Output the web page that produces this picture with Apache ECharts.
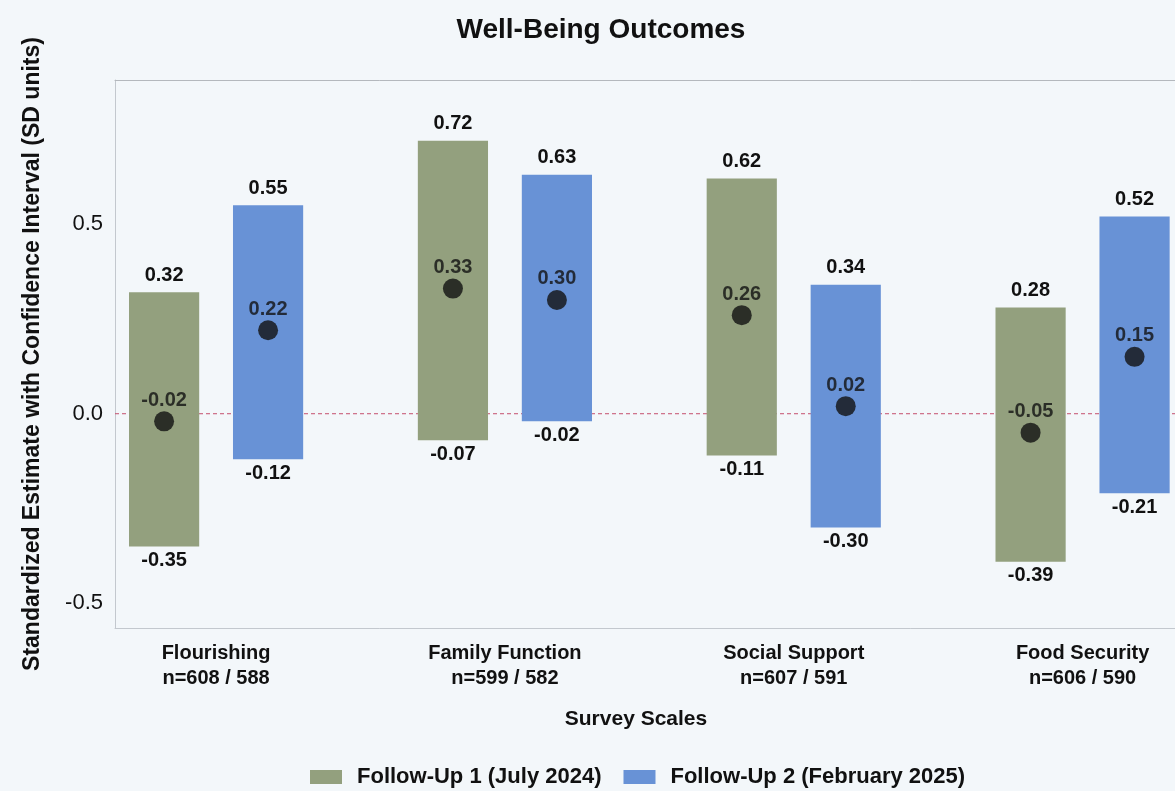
<!DOCTYPE html>
<html>
<head>
<meta charset="utf-8">
<script src="https://cdn.jsdelivr.net/npm/echarts@6/dist/echarts.min.js"></script>
<style>
  html, body { margin: 0; padding: 0; background: #f3f7fa; }
  #chart { width: 1175px; height: 791px; }
</style>
</head>
<body>
<div id="chart"></div>
<script>
  // survey scales and sample sizes
  let scaleNames = ['Flourishing', 'Family Function', 'Social Support', 'Food Security']
  let sampleSizes = ['n=608 / 588', 'n=599 / 582', 'n=607 / 591', 'n=606 / 590']
  // follow-up 1 (July 2024)
  let fu1Est = [-0.02, 0.33, 0.26, -0.05]
  let fu1Low = [-0.35, -0.07, -0.11, -0.39]
  let fu1High = [0.32, 0.72, 0.62, 0.28]
  // follow-up 2 (February 2025)
  let fu2Est = [0.22, 0.30, 0.02, 0.15]
  let fu2Low = [-0.12, -0.02, -0.30, -0.21]
  let fu2High = [0.55, 0.63, 0.34, 0.52]
  let yTicks = [-0.5, 0, 0.5]

  let fontFam = '"Liberation Sans", Arial, sans-serif'
  let xMin = -0.35
  let xMax = 3.32
  let barOffset = 0.18   // in category units
  let barSpan = 0.243
  let borderCol = '#c3c8ce'

  function intervalData (low, high, est, side) {
    return low.map((v, i) => [i + side * barOffset, v, high[i], est[i]])
  }

  function renderInterval (params, api) {
    let x = api.value(0)
    let top = api.coord([x, api.value(2)])
    let bottom = api.coord([x, api.value(1)])
    let w = api.size([barSpan, 0])[0]
    return {
      type: 'group',
      children: [{
        type: 'rect',
        shape: { x: top[0] - w / 2, y: top[1], width: w, height: bottom[1] - top[1] },
        style: { fill: api.visual('color') }
      }, {
        type: 'text',
        x: top[0], y: top[1] - 7,
        style: { text: api.value(2).toFixed(2), fill: '#111', font: 'bold 20px ' + fontFam, textAlign: 'center', textVerticalAlign: 'bottom' }
      }, {
        type: 'text',
        x: bottom[0], y: bottom[1] + 4,
        style: { text: api.value(1).toFixed(2), fill: '#111', font: 'bold 20px ' + fontFam, textAlign: 'center', textVerticalAlign: 'top' }
      }]
    }
  }

  function estData (est, side) {
    return est.map((v, i) => [i + side * barOffset, v])
  }

  let estLabel = {
    show: true,
    position: 'top',
    distance: 1,
    fontSize: 20,
    fontWeight: 'bold',
    color: '#111',
    formatter: p => p.value[1].toFixed(2)
  }

  let option = {
    backgroundColor: '#f3f7fa',
    textStyle: { fontFamily: fontFam },
    title: {
      text: 'Well-Being Outcomes',
      left: 596,
      top: 11,
      textAlign: 'center',
      textStyle: { fontSize: 28, fontWeight: 'bold', color: '#111', fontFamily: fontFam }
    },
    legend: {
      top: 761,
      left: 305,
      icon: 'rect',
      itemWidth: 32,
      itemHeight: 14,
      itemGap: 22,
      textStyle: { fontSize: 22, fontWeight: 'bold', color: '#111', fontFamily: fontFam, padding: [0, 0, 0, 10] },
      data: ['Follow-Up 1 (July 2024)', 'Follow-Up 2 (February 2025)']
    },
    grid: {
      left: 115,
      right: 0,
      top: 80,
      bottom: 163
    },
    xAxis: [{
      type: 'value',
      min: xMin,
      max: xMax,
      name: 'Survey Scales',
      nameLocation: 'middle',
      nameGap: 81,
      nameTextStyle: { fontSize: 21, fontWeight: 'bold', color: '#111', fontFamily: fontFam, padding: [0, 18, 0, 0] },
      axisLine: { show: true, onZero: false, lineStyle: { color: borderCol } },
      axisTick: { show: false },
      splitLine: { show: false },
      axisLabel: {
        customValues: [0, 1, 2, 3],
        margin: 13,
        fontSize: 20,
        fontWeight: 'bold',
        lineHeight: 25,
        color: '#111',
        formatter: function (v) {
          let i = Math.round(v)
          return scaleNames[i] + '\n' + sampleSizes[i]
        }
      }
    }, {
      type: 'value',
      position: 'top',
      min: xMin,
      max: xMax,
      axisLine: { show: true, onZero: false, lineStyle: { color: '#b4b8bd' } },
      axisTick: { show: false },
      axisLabel: { show: false },
      splitLine: { show: false }
    }],
    yAxis: {
      type: 'value',
      min: -0.565,
      max: 0.88,
      name: 'Standardized Estimate with Confidence Interval (SD units)',
      nameLocation: 'middle',
      nameGap: 71,
      nameTextStyle: { fontSize: 23, fontWeight: 'bold', color: '#111', fontFamily: fontFam },
      axisLine: { show: true, onZero: false, lineStyle: { color: borderCol } },
      axisTick: { show: false },
      splitLine: { show: false },
      axisLabel: {
        customValues: yTicks,
        margin: 12,
        fontSize: 22,
        color: '#111',
        formatter: v => v.toFixed(1)
      }
    },
    series: [{
      // reference line at zero
      name: 'zero',
      type: 'line',
      z: 1,
      silent: true,
      symbol: 'none',
      lineStyle: { color: '#c4506e', type: [4, 3], width: 1 },
      data: [[xMin, 0], [xMax, 0]]
    }, {
      name: 'Follow-Up 1 (July 2024)',
      type: 'custom',
      z: 6,
      itemStyle: { color: '#93a07e' },
      renderItem: renderInterval,
      data: intervalData(fu1Low, fu1High, fu1Est, -1)
    }, {
      name: 'Follow-Up 2 (February 2025)',
      type: 'custom',
      z: 6,
      itemStyle: { color: '#6892d6' },
      renderItem: renderInterval,
      data: intervalData(fu2Low, fu2High, fu2Est, 1)
    }, {
      name: 'est1',
      type: 'scatter',
      z: 8,
      symbolSize: 20,
      itemStyle: { color: '#111' },
      label: estLabel,
      data: estData(fu1Est, -1)
    }, {
      name: 'est2',
      type: 'scatter',
      z: 8,
      symbolSize: 20,
      itemStyle: { color: '#111' },
      label: estLabel,
      data: estData(fu2Est, 1)
    }]
  }

  let myChart = echarts.init(document.getElementById('chart'))
  myChart.setOption(option)
</script>
</body>
</html>
